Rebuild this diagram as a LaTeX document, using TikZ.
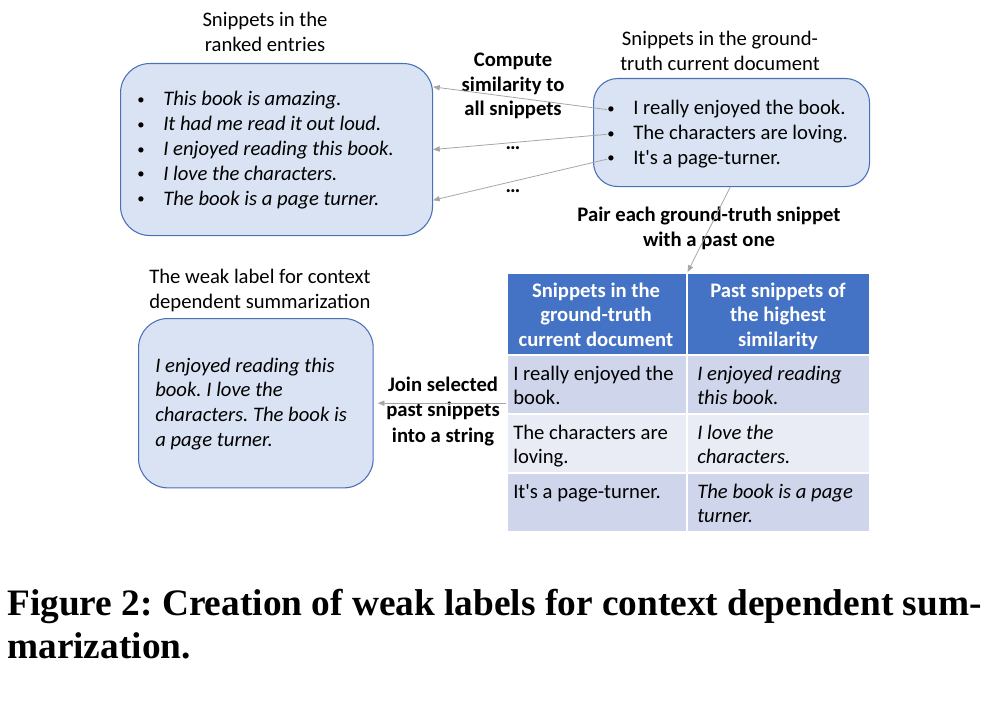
\documentclass[tikz,border=0pt]{standalone}
\usepackage{fontspec}
\setmainfont{Carlito}
\newfontfamily\capfont{Liberation Serif}
\usetikzlibrary{arrows.meta, positioning}
\definecolor{boxFill}{HTML}{DAE3F3}
\definecolor{boxLine}{HTML}{4A70B8}
\definecolor{headBlue}{HTML}{4472C4}
\definecolor{rowDark}{HTML}{CFD5EA}
\definecolor{rowLight}{HTML}{E9EBF5}
\definecolor{arrowGray}{gray}{0.65}
\newcommand{\bul}[2]{\makebox[#1][l]{\raisebox{1.2pt}{\fontsize{11}{11}\selectfont\textbullet}}#2}
\frenchspacing

\begin{document}
\begin{tikzpicture}[x=0.75pt, y=-0.75pt,
    every node/.style={inner sep=0pt, font=\fontsize{15.5}{18.6}\selectfont},
    roundbox/.style={draw=boxLine, fill=boxFill, line width=0.8pt, anchor=north west},
    cell/.style={draw=white, line width=1.2pt, anchor=north west},
    line/.style={anchor=base west},
    cline/.style={anchor=base},
    lbl/.style={anchor=base, font=\fontsize{15.5}{18.6}\selectfont\bfseries},
    link/.style={-{Triangle[length=5pt, width=4pt]}, arrowGray, line width=0.6pt}]
    \useasboundingbox (0,0) rectangle (998,706);

    % boxes
    \node[roundbox, rounded corners=22pt, minimum width=234pt, minimum height=129pt] (ranked) at (120,63) {};
    \node[roundbox, rounded corners=18pt, minimum width=207pt, minimum height=81pt] (gtbox) at (593,78) {};
    \node[roundbox, rounded corners=22pt, minimum width=176pt, minimum height=127pt] (weak) at (138,318) {};

    % titles above the boxes
    \foreach \t [count=\i from 0] in {Snippets in the, ranked entries}
        \node[cline] (rtitle\i) at (265, 27+25*\i) {\t};
    \foreach \t [count=\i from 0] in {Snippets in the ground-, truth current document}
        \node[cline] (gtitle\i) at (720, 46+25*\i) {\t};
    \foreach \t [count=\i from 0] in {The weak label for context, dependent summarization}
        \node[line] (wtitle\i) at (149, 283+25*\i) {\t};

    % snippets
    \foreach \t [count=\i from 0] in {This book is amazing., It had me read it out loud., I enjoyed reading this book., I love the characters., The book is a page turner.}
        \node[line] (rk\i) at (137, 106+24.8*\i) {\bul{19.5pt}{\itshape\t}};
    \foreach \t [count=\i from 0] in {I really enjoyed the book., The characters are loving., It\textquotesingle s a page-turner.}
        \node[line] (gt\i) at (607, 115+24.7*\i) {\bul{19.5pt}{\t}};
    \foreach \t [count=\i from 0] in {I enjoyed reading this, book. I love the, characters. The book is, a page turner.}
        \node[line] (wk\i) at (155, 372+24.8*\i) {\itshape\t};

    % step labels
    \foreach \t [count=\i from 0] in {Compute, similarity to, all snippets}
        \node[lbl] (comp\i) at (513, 67+24.5*\i) {\t};
    \node[lbl] (dots1) at (513, 149) {\dots};
    \node[lbl] (dots2) at (513, 192) {\dots};
    \foreach \t [count=\i from 0] in {Pair each ground-truth snippet, with a past one}
        \node[lbl] (pair\i) at (709, 221+25*\i) {\t};
    \foreach \t [count=\i from 0] in {Join selected, past snippets, into a string}
        \node[lbl] (join\i) at (443, 391+25.5*\i) {\t};

    % table
    \node[cell, fill=headBlue, minimum width=135pt, minimum height=62pt] (h1) at (506,272) {};
    \node[cell, fill=headBlue, minimum width=137pt, minimum height=62pt] (h2) at (686,272) {};
    \node[cell, fill=rowDark, minimum width=135pt, minimum height=44.5pt] (c11) at (506,354) {};
    \node[cell, fill=rowDark, minimum width=137pt, minimum height=44.5pt] (c12) at (686,354) {};
    \node[cell, fill=rowLight, minimum width=135pt, minimum height=44.5pt] (c21) at (506,413) {};
    \node[cell, fill=rowLight, minimum width=137pt, minimum height=44.5pt] (c22) at (686,413) {};
    \node[cell, fill=rowDark, minimum width=135pt, minimum height=44pt] (c31) at (506,472) {};
    \node[cell, fill=rowDark, minimum width=137pt, minimum height=44pt] (c32) at (686,472) {};

    \foreach \t [count=\i from 0] in {Snippets in the, ground-truth, current document}
        \node[lbl, text=white] (hd1\i) at (596, 297+24.5*\i) {\t};
    \foreach \t [count=\i from 0] in {Past snippets of, the highest, similarity}
        \node[lbl, text=white] (hd2\i) at (778, 297+24.5*\i) {\t};

    \node[line] (t11a) at (513,380) {I really enjoyed the};
    \node[line] (t11b) at (513,404) {book.};
    \node[line] (t21a) at (513,439) {The characters are};
    \node[line] (t21b) at (513,463) {loving.};
    \node[line] (t31a) at (513,498) {It\textquotesingle s a page-turner.};
    \node[line] (t12a) at (697,380) {\itshape I enjoyed reading};
    \node[line] (t12b) at (697,404) {\itshape this book.};
    \node[line] (t22a) at (697,439) {\itshape I love the};
    \node[line] (t22b) at (697,463) {\itshape characters.};
    \node[line] (t32a) at (697,498) {\itshape The book is a page};
    \node[line] (t32b) at (697,522) {\itshape turner.};

    % connectors
    \draw[link] (gt0.west) -- ([yshift=47pt]ranked.east);
    \draw[link] (gt1.west) -- (ranked.east);
    \draw[link] (gt2.west) -- ([yshift=-38pt]ranked.east);
    \draw[link] ([xshift=-1pt]gtbox.south) -- (h1.north east);
    \draw[link, shorten >=3pt] (c11.west |- weak.east) -- (weak.east);

    % caption
    \node[line, font=\fontsize{28}{32}\capfont\bfseries] (cap1) at (7,615) {Figure 2: Creation of weak labels for context dependent sum-};
    \node[line, font=\fontsize{28}{32}\capfont\bfseries] (cap2) at (7,658) {marization.};
\end{tikzpicture}
\end{document}
